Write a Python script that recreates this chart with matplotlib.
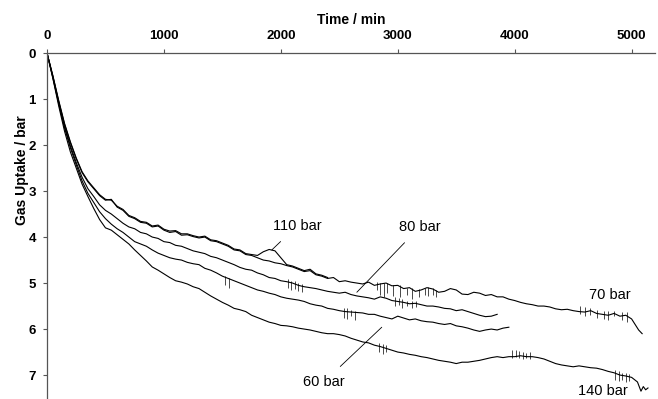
import matplotlib
matplotlib.use('Agg')
import matplotlib.pyplot as plt

plt.rcParams['font.family'] = ['Liberation Sans', 'DejaVu Sans']

# time grid (min) for the first part of every run
t_early = [0, 50, 100, 150, 200, 250, 300, 350, 400, 450]

# 70 bar run
t70 = t_early + list(range(500, 5001, 50)) + [5030, 5060, 5090]
g70 = [0, 0.5, 1.05, 1.55, 1.95, 2.3, 2.6, 2.8, 2.95, 3.1,
       3.2, 3.18, 3.35, 3.42, 3.55, 3.6, 3.68, 3.7, 3.78, 3.76,
       3.85, 3.9, 3.88, 3.96, 3.95, 3.99, 4.02, 4.0, 4.08, 4.1,
       4.15, 4.2, 4.28, 4.3, 4.38, 4.4, 4.45, 4.5, 4.52, 4.56,
       4.58, 4.62, 4.65, 4.7, 4.75, 4.73, 4.82, 4.85, 4.9, 4.88,
       4.97, 4.95, 4.98, 5.0, 5.02, 4.98, 5.05, 5.02, 5.0, 5.06,
       5.05, 5.12, 5.1, 5.18, 5.15, 5.1, 5.13, 5.2, 5.18, 5.12,
       5.15, 5.24, 5.25, 5.2, 5.22, 5.27, 5.25, 5.3, 5.3, 5.35,
       5.38, 5.42, 5.45, 5.47, 5.5, 5.5, 5.52, 5.56, 5.58, 5.57,
       5.6, 5.62, 5.63, 5.6, 5.66, 5.68, 5.7, 5.66, 5.72, 5.7,
       5.78, 5.9, 6.02, 6.1]

# 110 bar run
t110 = t_early + list(range(500, 2401, 50))
g110 = [0, 0.49, 1.03, 1.53, 1.93, 2.28, 2.58, 2.78, 2.93, 3.08,
        3.18, 3.2, 3.33, 3.4, 3.53, 3.58, 3.66, 3.68, 3.76, 3.74,
        3.83, 3.87, 3.86, 3.93, 3.93, 3.97, 4.0, 3.98, 4.06, 4.08,
        4.13, 4.18, 4.26, 4.28, 4.36, 4.38, 4.4, 4.32, 4.27, 4.3,
        4.45, 4.6, 4.63, 4.68, 4.73, 4.7, 4.8, 4.83, 4.88]

# 80 bar run
t80 = t_early + list(range(500, 3851, 50))
g80 = [0, 0.52, 1.08, 1.6, 2.02, 2.38, 2.7, 2.95, 3.12, 3.3,
       3.42, 3.5, 3.6, 3.7, 3.78, 3.82, 3.9, 3.93, 4.0, 4.03,
       4.1, 4.12, 4.18, 4.2, 4.25, 4.3, 4.33, 4.36, 4.42, 4.45,
       4.5, 4.55, 4.6, 4.66, 4.7, 4.72, 4.78, 4.82, 4.88, 4.9,
       4.95, 4.97, 5.0, 5.05, 5.08, 5.1, 5.12, 5.15, 5.18, 5.2,
       5.22, 5.2, 5.25, 5.28, 5.3, 5.32, 5.35, 5.3, 5.33, 5.38,
       5.4, 5.42, 5.45, 5.44, 5.47, 5.5, 5.5, 5.52, 5.55, 5.56,
       5.6, 5.58, 5.62, 5.66, 5.7, 5.73, 5.72, 5.68]

# 60 bar run
t60 = t_early + list(range(500, 3951, 50))
g60 = [0, 0.54, 1.1, 1.63, 2.06, 2.43, 2.78, 3.05, 3.25, 3.45,
       3.6, 3.72, 3.82, 3.9, 4.0, 4.1, 4.15, 4.2, 4.28, 4.35,
       4.4, 4.45, 4.48, 4.5, 4.55, 4.58, 4.6, 4.68, 4.72, 4.78,
       4.85, 4.9, 4.95, 5.0, 5.05, 5.1, 5.15, 5.18, 5.22, 5.25,
       5.3, 5.33, 5.35, 5.37, 5.4, 5.45, 5.48, 5.5, 5.55, 5.57,
       5.6, 5.62, 5.63, 5.64, 5.65, 5.68, 5.68, 5.72, 5.75, 5.78,
       5.72, 5.76, 5.8, 5.78, 5.82, 5.84, 5.85, 5.88, 5.9, 5.88,
       5.93, 5.95, 5.98, 6.02, 6.05, 6.02, 6.0, 6.02, 5.98, 5.96]

# 140 bar run
t140 = t_early + list(range(500, 5001, 50)) + [5050, 5080, 5100, 5120, 5140]
g140 = [0, 0.55, 1.15, 1.7, 2.15, 2.5, 2.85, 3.12, 3.38, 3.62,
        3.8, 3.85, 3.95, 4.05, 4.15, 4.28, 4.4, 4.52, 4.65, 4.72,
        4.8, 4.88, 4.95, 4.98, 5.02, 5.08, 5.12, 5.2, 5.28, 5.35,
        5.42, 5.48, 5.55, 5.58, 5.62, 5.7, 5.75, 5.8, 5.85, 5.88,
        5.92, 5.93, 5.95, 5.98, 6.0, 6.02, 6.05, 6.08, 6.1, 6.1,
        6.12, 6.15, 6.2, 6.24, 6.28, 6.3, 6.35, 6.38, 6.42, 6.46,
        6.5, 6.52, 6.55, 6.57, 6.6, 6.62, 6.65, 6.68, 6.7, 6.72,
        6.75, 6.72, 6.72, 6.7, 6.68, 6.65, 6.62, 6.6, 6.62, 6.6,
        6.6, 6.58, 6.6, 6.6, 6.62, 6.65, 6.7, 6.75, 6.78, 6.8,
        6.82, 6.8, 6.82, 6.84, 6.85, 6.88, 6.92, 6.95, 7.0, 7.02,
        7.05, 7.15, 7.35, 7.25, 7.32, 7.28]

# noise spikes on the logged traces (time, top, bottom)
spk70_t = [2820, 2850, 2880, 2910, 2960, 3020, 3080, 3120, 3180, 3230, 3260, 3300, 3330,
           4560, 4600, 4640, 4700, 4760, 4800, 4850, 4920, 4960]
spk70_lo = [4.98, 5.0, 5.0, 5.0, 5.04, 5.05, 5.1, 5.1, 5.12, 5.1, 5.08, 5.1, 5.15,
            5.5, 5.52, 5.55, 5.58, 5.6, 5.6, 5.6, 5.62, 5.62]
spk70_hi = [5.15, 5.25, 5.3, 5.22, 5.28, 5.3, 5.25, 5.35, 5.3, 5.25, 5.28, 5.25, 5.3,
            5.68, 5.72, 5.7, 5.75, 5.78, 5.8, 5.72, 5.8, 5.85]
spk80_t = [2060, 2090, 2120, 2150, 2180, 2980, 3010, 3040, 3080, 3120, 3160]
spk80_lo = [4.92, 4.95, 4.95, 5.0, 5.02, 5.3, 5.32, 5.35, 5.38, 5.4, 5.4]
spk80_hi = [5.1, 5.15, 5.12, 5.18, 5.2, 5.5, 5.48, 5.55, 5.5, 5.55, 5.52]
spk60_t = [1520, 1560, 2540, 2570, 2600, 2630]
spk60_lo = [4.85, 4.88, 5.55, 5.55, 5.58, 5.6]
spk60_hi = [5.05, 5.1, 5.75, 5.78, 5.72, 5.8]
spk140_t = [2840, 2870, 2900, 3980, 4010, 4040, 4070, 4100, 4130, 4860, 4890, 4920, 4950, 4980]
spk140_lo = [6.3, 6.32, 6.35, 6.45, 6.45, 6.48, 6.5, 6.52, 6.5, 6.9, 6.92, 6.95, 6.95, 6.98]
spk140_hi = [6.5, 6.55, 6.5, 6.62, 6.6, 6.62, 6.65, 6.62, 6.65, 7.1, 7.12, 7.1, 7.15, 7.12]

fig = plt.figure(figsize=(6.58, 3.99), dpi=100)
ax = fig.add_axes([47/658, 0, 608/658, 346/399])

for t, g in [(t70, g70), (t110, g110), (t80, g80), (t60, g60), (t140, g140)]:
    ax.plot(t, g, '-', color='black', linewidth=0.8)
for st, lo, hi in [(spk70_t, spk70_lo, spk70_hi), (spk80_t, spk80_lo, spk80_hi),
                   (spk60_t, spk60_lo, spk60_hi), (spk140_t, spk140_lo, spk140_hi)]:
    ax.vlines(st, lo, hi, color='black', linewidth=0.5)

ax.set_xlim(0, 5200)
ax.set_ylim(7.52, 0)
ax.xaxis.tick_top()
ax.xaxis.set_label_position('top')
ax.set_xticks([0, 1000, 2000, 3000, 4000, 5000])
ax.set_yticks([0, 1, 2, 3, 4, 5, 6, 7])
for s in ['right', 'bottom']:
    ax.spines[s].set_visible(False)
for s in ['top', 'left']:
    ax.spines[s].set_color('#555555')
    ax.spines[s].set_linewidth(0.9)
ax.tick_params(axis='both', length=3, width=0.8, color='#555555', labelsize=9.5, pad=5)
for lab in ax.get_xticklabels() + ax.get_yticklabels():
    lab.set_fontweight('bold')

ax.set_xlabel('Time / min', fontsize=10, fontweight='bold', labelpad=4)
ax.set_ylabel('Gas Uptake / bar', fontsize=10, fontweight='bold')
ax.yaxis.set_label_coords(-0.03, 0.662)

# annotations
line = dict(arrowstyle='-', color='black', linewidth=0.6, shrinkA=6, shrinkB=0)
ax.annotate('110 bar', xy=(1923, 4.28), xytext=(2137, 3.76), fontsize=10.5,
            ha='center', va='center', arrowprops=line)
ax.annotate('80 bar', xy=(2650, 5.2), xytext=(3188, 3.78), fontsize=10.5,
            ha='center', va='center', arrowprops=line)
ax.annotate('60 bar', xy=(2863, 5.96), xytext=(2368, 7.15), fontsize=10.5,
            ha='center', va='center', arrowprops=line)
ax.text(4812, 5.26, '70 bar', fontsize=10.5, ha='center', va='center')
ax.text(4752, 7.5, '140 bar', fontsize=10.5, ha='center', va='bottom')

fig.savefig('out.png', dpi=100)
